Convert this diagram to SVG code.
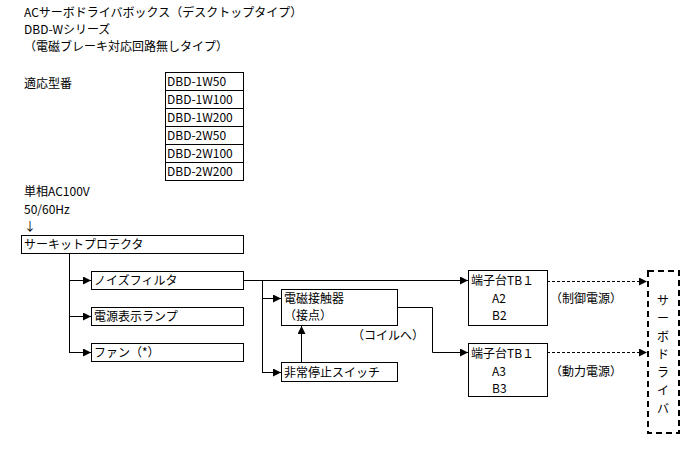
<svg xmlns="http://www.w3.org/2000/svg" width="690" height="453" viewBox="0 0 690 453">
<style>
text{font-family:"Noto Sans CJK JP","Liberation Sans",sans-serif;font-size:12px;fill:#000}
.b{fill:#fff;stroke:#000;stroke-width:1}
.l{fill:none;stroke:#000;stroke-width:1}
.d{fill:none;stroke:#000;stroke-width:1;stroke-dasharray:3,2}
</style>
<defs><marker id="a" viewBox="0 0 8 8" refX="8" refY="4" markerWidth="8" markerHeight="8" markerUnits="userSpaceOnUse" orient="auto"><path d="M0,0L8,4L0,8z"/></marker></defs>
<text x="24" y="17">ACサーボドライバボックス（デスクトップタイプ）</text>
<text x="24" y="34">DBD-Wシリーズ</text>
<text x="24" y="51">（電磁ブレーキ対応回路無しタイプ）</text>
<text x="24" y="88">適応型番</text>
<g id="table">
<rect class="b" x="165.5" y="72.5" width="78" height="108"/>
<path class="l" d="M165 90.5H243M165 108.5H243M165 126.5H243M165 144.5H243M165 162.5H243"/>
<text x="167" y="86">DBD-1W50</text><text x="167" y="104">DBD-1W100</text><text x="167" y="122">DBD-1W200</text>
<text x="167" y="140">DBD-2W50</text><text x="167" y="158">DBD-2W100</text><text x="167" y="176">DBD-2W200</text>
</g>
<text x="24" y="196">単相AC100V</text>
<text x="24" y="214">50/60Hz</text>
<text x="24" y="231">↓</text>
<g id="cp"><rect class="b" x="21.5" y="235.5" width="222" height="18"/><text x="24" y="249">サーキットプロテクタ</text></g>
<g id="nf"><rect class="b" x="91.5" y="271.5" width="152" height="18"/><text x="94" y="285">ノイズフィルタ</text></g>
<g id="lamp"><rect class="b" x="91.5" y="307.5" width="152" height="18"/><text x="94" y="321">電源表示ランプ</text></g>
<g id="fan"><rect class="b" x="91.5" y="343.5" width="152" height="18"/><text x="94" y="357">ファン（*）</text></g>
<g id="mc"><rect class="b" x="281.5" y="289.5" width="116" height="36"/><text x="284" y="303">電磁接触器</text><text x="284" y="320">（接点）</text></g>
<g id="es"><rect class="b" x="281.5" y="362.5" width="116" height="19"/><text x="284" y="377">非常停止スイッチ</text></g>
<g id="tb1"><rect class="b" x="468.5" y="270.5" width="79" height="55"/><text x="471" y="285">端子台TB１</text><text x="492" y="303">A2</text><text x="492" y="320">B2</text></g>
<g id="tb2"><rect class="b" x="468.5" y="343.5" width="79" height="53"/><text x="471" y="358">端子台TB１</text><text x="492" y="376">A3</text><text x="492" y="393">B3</text></g>
<text x="550" y="303">（制御電源）</text>
<text x="550" y="376">（動力電源）</text>
<text x="352" y="340">（コイルへ）</text>
<g id="sd"><rect x="648" y="271" width="31" height="162" fill="#fff" stroke="#000" stroke-width="2" stroke-dasharray="6,4"/>
<text x="663" y="305" text-anchor="middle">サ</text><text x="663" y="323" text-anchor="middle">ー</text><text x="663" y="341" text-anchor="middle">ボ</text><text x="663" y="359" text-anchor="middle">ド</text><text x="663" y="377" text-anchor="middle">ラ</text><text x="663" y="395" text-anchor="middle">イ</text><text x="663" y="413" text-anchor="middle">バ</text></g>
<g id="conn">
<path class="l" d="M69.5 253V352.5"/>
<path class="l" d="M69 280.5H91" marker-end="url(#a)"/>
<path class="l" d="M69 316.5H91" marker-end="url(#a)"/>
<path class="l" d="M69 352.5H91" marker-end="url(#a)"/>
<path class="l" d="M243 280.5H468" marker-end="url(#a)"/>
<path class="l" d="M262.5 280V372.5"/>
<path class="l" d="M262 298.5H281" marker-end="url(#a)"/>
<path class="l" d="M262 372.5H281" marker-end="url(#a)"/>
<path class="l" d="M301.5 362V326" marker-end="url(#a)"/>
<path class="l" d="M397 307.5H432.5V352.5H468" marker-end="url(#a)"/>
<path class="d" d="M547 281.5H647" marker-end="url(#a)"/>
<path class="d" d="M547 352.5H647" marker-end="url(#a)"/>
</g>
</svg>
